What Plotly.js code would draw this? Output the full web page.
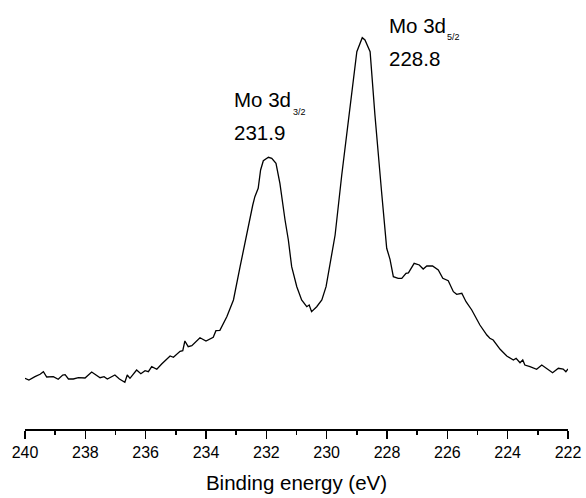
<!DOCTYPE html>
<html>
<head>
<meta charset="utf-8">
<script src="https://cdn.plot.ly/plotly-3.0.1.min.js"></script>
<style>html,body{margin:0;padding:0;background:#fff;}#chart{width:586px;height:498px;}</style>
</head>
<body>
<div id="chart"></div>
<script>
// Binding energy (eV)
var energy = [240.00,239.87,239.67,239.50,239.39,239.28,239.06,238.90,238.75,238.67,238.56,238.40,238.23,238.01,237.79,237.51,237.38,237.27,237.02,236.87,236.69,236.61,236.52,236.30,236.16,236.02,235.91,235.80,235.63,235.47,235.19,235.08,234.86,234.77,234.70,234.59,234.47,234.20,234.00,233.76,233.67,233.54,233.31,233.09,232.87,232.76,232.65,232.54,232.45,232.38,232.27,232.19,232.10,231.93,231.82,231.68,231.55,231.38,231.27,231.16,230.99,230.83,230.66,230.58,230.50,230.33,230.16,230.02,229.89,229.72,229.50,229.23,229.00,228.82,228.73,228.56,228.40,228.18,228.01,227.90,227.79,227.63,227.51,227.37,227.29,227.10,226.93,226.80,226.68,226.49,226.30,226.15,225.97,225.80,225.69,225.52,225.38,225.19,224.92,224.69,224.59,224.48,224.25,224.03,223.81,223.72,223.59,223.50,223.43,223.26,223.04,222.87,222.71,222.51,222.32,222.16,222.07,222.00];
// Intensity (arbitrary units)
var intensity = [50.7,49,52.3,54.7,57.3,52,52.3,49.7,54,54.3,50,50,51.3,51,57,51.3,52.3,50,54,50,46.7,54,50.7,59,55.3,58.3,57.3,62.3,59.7,65,73,71.7,77.7,78.3,88,82.3,83.3,91.3,88,91.7,98.3,98.7,112.3,129,162.3,179,192.3,209,224,232.3,240.7,259,268.3,271.7,270.7,265.7,245.7,209,189,162.3,142.3,129,122.3,124,117.3,122.3,129,142.3,165.7,194,254,324,377.3,391.3,389,377.3,314,237.3,180.7,169.7,152.3,150.7,150.7,155.7,156.2,165.7,164,160,163,163,159,150.7,148.3,137.3,134.7,135.7,127.3,119,104,94,90.7,89,79.7,73,69,70.7,66.3,69,64,62.3,59.7,64,60.7,56.3,60.7,60,57.3,60];

var xTickVals = [240,238,236,234,232,230,228,226,224,222];
var xTickText = ["240","238","236","234","232","230","228","226","224","222"];

var peakNames = ["Mo 3d", "Mo 3d"];
var peakSubs = ["3/2", "5/2"];
var peakValues = ["231.9", "228.8"];

var W = 586, H = 498;
var M = {l: 25, r: 18, t: 20, b: 69};
var pw = W - M.l - M.r, ph = H - M.t - M.b;
function px(x){ return (x - M.l) / pw; }
function py(y){ return (H - M.b - y) / ph; }

var font = "Liberation Sans, Arial, Helvetica, sans-serif";
var annFont = {family: font, size: 20.5, color: "#000"};
var subFont = {family: font, size: 9, color: "#000"};

var annotations = [
  {text: peakNames[0], x: px(232), y: py(99.7), f: annFont},
  {text: peakSubs[0], x: px(290.5), y: py(112.5), f: subFont},
  {text: peakValues[0], x: px(232), y: py(132.3), f: annFont},
  {text: peakNames[1], x: px(387), y: py(25.8), f: annFont},
  {text: peakSubs[1], x: px(444.5), y: py(37.5), f: subFont},
  {text: peakValues[1], x: px(387), y: py(58.8), f: annFont}
].map(function(a){
  return {text: a.text, x: a.x, y: a.y, xref: "paper", yref: "paper",
          xanchor: "left", yanchor: "middle", showarrow: false, font: a.f};
});

var trace = {
  x: energy, y: intensity, type: "scatter", mode: "lines",
  line: {color: "#000", width: 1.3}, hoverinfo: "skip"
};

var layout = {
  width: W, height: H,
  margin: M,
  paper_bgcolor: "#fff", plot_bgcolor: "#fff",
  showlegend: false,
  font: {family: font, color: "#000"},
  xaxis: {
    range: [240, 222], autorange: false,
    tickmode: "array", tickvals: xTickVals, ticktext: xTickText,
    ticks: "outside", ticklen: 8, tickwidth: 1.5, tickcolor: "#000",
    minor: {ticks: "outside", ticklen: 4, tickwidth: 1.5, tickcolor: "#000", dtick: 1, tick0: 222},
    showline: true, linecolor: "#000", linewidth: 1.5,
    showgrid: false, zeroline: false,
    tickfont: {family: font, size: 16, color: "#000"},
    title: {text: "Binding energy (eV)", standoff: 16, font: {family: font, size: 20.5, color: "#000"}},
    fixedrange: true
  },
  yaxis: {
    range: [0, ph], autorange: false, visible: false,
    showgrid: false, zeroline: false, fixedrange: true
  },
  annotations: annotations
};

Plotly.newPlot("chart", [trace], layout, {staticPlot: true, displayModeBar: false});
</script>
</body>
</html>
